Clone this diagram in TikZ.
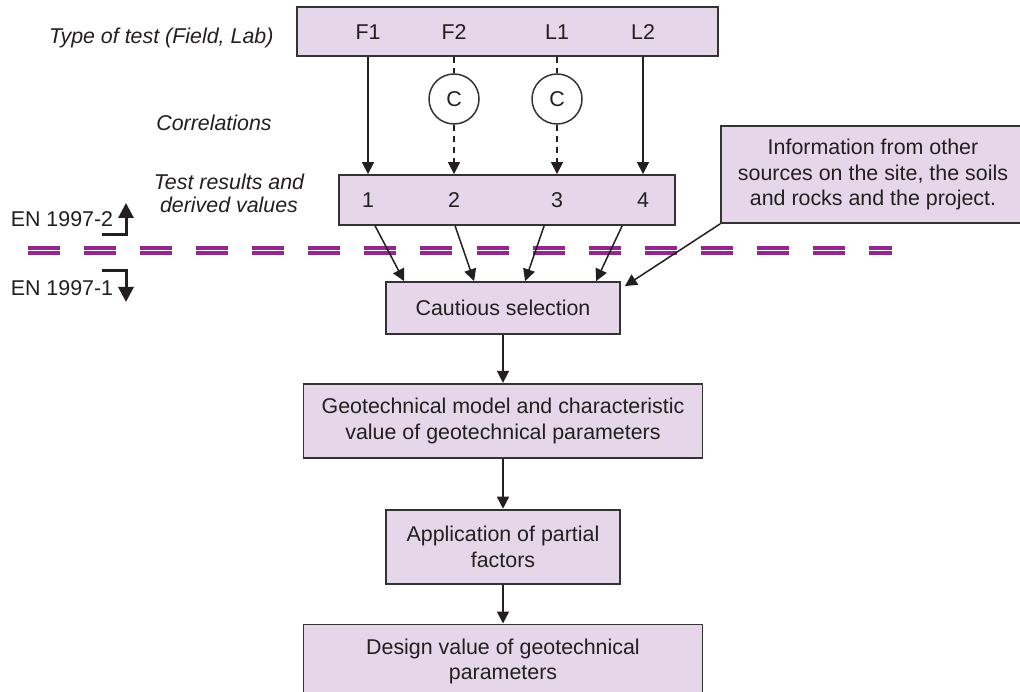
\documentclass[tikz,border=0pt]{standalone}
\usepackage{fontspec}
\setmainfont{Liberation Sans}
\usepackage{tikz}
\usetikzlibrary{arrows.meta, positioning, calc}
\definecolor{boxfill}{HTML}{E5D7E9}
\definecolor{boxline}{HTML}{333333}
\definecolor{splitpurple}{HTML}{93278F}
\definecolor{inkgray}{HTML}{231F20}

\begin{document}
\begin{tikzpicture}[x=1pt, y=-1pt, text=inkgray,
  font=\fontsize{21.4}{25.5}\selectfont,
  block/.style={rectangle, draw=boxline, line width=1.8pt, fill=boxfill, align=center, inner sep=0pt},
  corr/.style={circle, draw=boxline, line width=1.5pt, fill=white, minimum size=50pt, inner sep=0pt},
  side/.style={font=\fontsize{21.4}{23}\selectfont\itshape, align=center},
  arrow/.style={-{Triangle[length=12pt, width=12pt]}, line width=1.5pt, draw=inkgray},
  dashline/.style={dash pattern=on 6pt off 5pt},
  enarrow/.style={-{Triangle[length=15pt, width=15pt]}, line width=3pt, draw=inkgray}]

\useasboundingbox (0,0) rectangle (1020,692);
\clip (0,0) rectangle (1020,692);

% split between EN 1997-2 and EN 1997-1
\coordinate (splitleft) at (28,251);
\coordinate (splitright) at (892,251);
\draw[splitpurple, line width=4pt, double=white, double distance=1pt, dash pattern=on 32pt off 24.07pt] (splitleft) -- (splitright);

% tests and results
\node[block, minimum width=421pt, minimum height=49pt] (tests) at (507.5,31.5) {};
\node (f1) at (368,32) {F1};
\node (f2) at (454,32) {F2};
\node (l1) at (557,32) {L1};
\node (l2) at (643,32) {L2};
\node[corr] (c1) at (454,99) {C};
\node[corr] (c2) at (557,99) {C};
\node[block, minimum width=336pt, minimum height=50pt] (results) at (507,200) {};
\node (r1) at (368,200) {1};
\node (r2) at (454,200) {2};
\node (r3) at (557,200) {3};
\node (r4) at (643,200) {4};
\node[block, minimum width=304pt, minimum height=97pt] (info) at (873,174.5) {Information from other\\sources on the site, the soils\\and rocks and the project.};

% side labels
\node[side, anchor=east] (typelbl) at (277,38) {Type of test (Field, Lab)};
\node[side] (corrlbl) at (214,123) {Correlations};
\node[side] (reslbl) at (229,193) {Test results and\\derived values};
\node (en2) at (62,219) {EN 1997-2};
\node (en1) at (62,288) {EN 1997-1};

% design chain
\node[block, minimum width=234pt, minimum height=52pt] (caut) at (503,308) {Cautious selection};
\node[block, minimum width=399pt, minimum height=74pt, below=48pt of caut] (geo) {Geotechnical model and characteristic\\value of geotechnical parameters};
\node[block, minimum width=234pt, minimum height=74pt, below=50pt of geo] (partial) {Application of partial\\factors};
\node[block, minimum width=399pt, minimum height=74pt, below=39pt of partial] (design) {Design value of geotechnical\\parameters};

\draw[arrow] (f1 |- tests.south) -- (f1 |- results.north);
\draw[arrow] (l2 |- tests.south) -- (l2 |- results.north);
\draw[dashline, draw=inkgray, line width=1.5pt] (f2 |- tests.south) -- (c1);
\draw[dashline, draw=inkgray, line width=1.5pt] (l1 |- tests.south) -- (c2);
\draw[arrow, dashline] (c1) -- (f2 |- results.north);
\draw[arrow, dashline] (c2) -- (l1 |- results.north);

\draw[arrow] ($(results.south west)+(37,0)$) -- ($(caut.north west)+(19,0)$);
\draw[arrow] ($(results.south west)+(117,0)$) -- ($(caut.north west)+(89,0)$);
\draw[arrow] ($(results.south west)+(206,0)$) -- ($(caut.north west)+(140,0)$);
\draw[arrow] ($(results.south west)+(284,0)$) -- ($(caut.north west)+(211,0)$);
\draw[arrow] (info.south west) -- ($(caut.north east)+(4,5)$);
\draw[arrow] (caut) -- (geo);
\draw[arrow] (geo) -- (partial);
\draw[arrow] (partial) -- (design);

% EN arrows
\coordinate (en2start) at (102,234.5);
\coordinate (en2tip) at (126,203);
\draw[enarrow] (en2start) -| (en2tip);
\coordinate (en1start) at (102,270.5);
\coordinate (en1tip) at (126,302);
\draw[enarrow] (en1start) -| (en1tip);
\end{tikzpicture}
\end{document}
